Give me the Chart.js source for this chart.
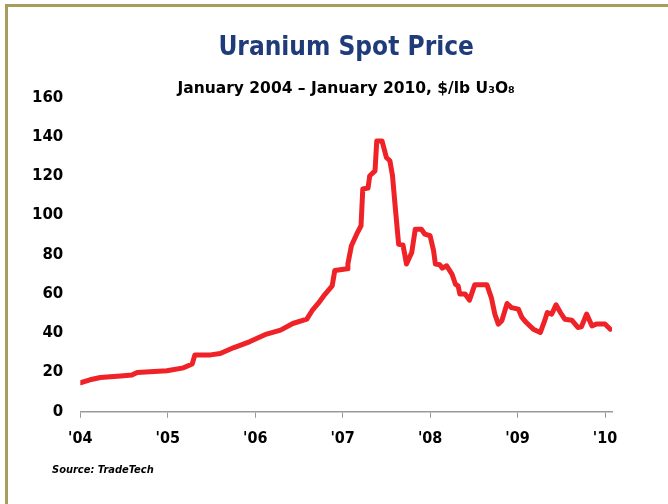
<!DOCTYPE html>
<html>
<head>
<meta charset="utf-8">
<script src="https://cdn.jsdelivr.net/npm/chart.js@4.4.1/dist/chart.umd.min.js"></script>
<style>
  html, body { margin: 0; padding: 0; background: #fff; overflow: hidden; }
  #wrap { position: relative; width: 668px; height: 504px; }
  #frame {
    position: absolute; left: 5px; top: 4px; width: 900px; height: 900px;
    border-left: 3px solid #a99d5e; border-top: 3px solid #a99d5e;
    pointer-events: none;
  }
  canvas { position: absolute; left: 0; top: 0; }
</style>
</head>
<body>
<div id="wrap">
  <canvas id="chart" width="668" height="504"></canvas>
  <div id="frame"></div>
</div>
<script>
// spot price (time as decimal year)
const dates = [
  2004.00, 2004.11, 2004.23, 2004.46, 2004.59, 2004.65, 2004.99, 2005.18, 2005.28, 2005.31,
  2005.49, 2005.60, 2005.75, 2005.94, 2006.13, 2006.29, 2006.43, 2006.59, 2006.65, 2006.72,
  2006.80, 2006.88, 2006.91, 2007.05, 2007.06, 2007.10, 2007.16, 2007.21, 2007.23, 2007.29,
  2007.31, 2007.37, 2007.39, 2007.45, 2007.50, 2007.54, 2007.57, 2007.60, 2007.64, 2007.69,
  2007.73, 2007.79, 2007.83, 2007.90, 2007.94, 2008.00, 2008.04, 2008.06, 2008.11, 2008.14,
  2008.19, 2008.25, 2008.29, 2008.32, 2008.34, 2008.40, 2008.45, 2008.51, 2008.65, 2008.70,
  2008.74, 2008.78, 2008.82, 2008.88, 2008.93, 2009.01, 2009.05, 2009.10, 2009.18, 2009.26,
  2009.31, 2009.34, 2009.39, 2009.44, 2009.49, 2009.54, 2009.62, 2009.69, 2009.73, 2009.79,
  2009.85, 2009.90, 2010.00, 2010.06
];
const prices = [
  14.8, 16.3, 17.5, 18.3, 18.7, 20.0, 20.9, 22.4, 24.4, 29.0,
  29.0, 29.7, 32.6, 35.8, 39.6, 41.6, 45.0, 47.2, 51.5, 55.2,
  60.0, 64.2, 72.0, 72.9, 75.4, 84.6, 90.5, 94.8, 113.5, 114.0,
  120.3, 122.8, 138.0, 138.0, 129.6, 127.9, 120.3, 105.0, 85.4, 85.0,
  75.3, 81.2, 93.0, 93.0, 90.5, 89.7, 82.0, 75.3, 74.9, 73.2,
  74.4, 70.2, 65.0, 64.2, 60.0, 60.0, 56.9, 64.7, 64.7, 58.2,
  49.8, 44.7, 46.4, 55.2, 53.1, 52.3, 48.1, 45.5, 42.1, 40.4,
  46.4, 50.6, 49.8, 54.5, 50.6, 47.2, 46.7, 43.0, 43.3, 49.8,
  43.8, 44.7, 44.7, 42.1
];
const yearTicks = [2004, 2005, 2006, 2007, 2008, 2009, 2010];
const yTicks = [0, 20, 40, 60, 80, 100, 120, 140, 160];

const FONT_NARROW = "'DejaVu Sans Condensed', 'DejaVu Sans', sans-serif";
const FONT = "'DejaVu Sans', sans-serif";

// source note under the axis
const sourceNote = {
  id: "sourceNote",
  afterDraw(chart) {
    const ctx = chart.ctx;
    ctx.save();
    ctx.font = "italic bold 11px " + FONT_NARROW;
    ctx.fillStyle = "#000";
    ctx.textBaseline = "middle";
    ctx.textAlign = "left";
    ctx.fillText("Source: TradeTech", 52, 470);
    ctx.restore();
  }
};

const ctx = document.getElementById("chart").getContext("2d");
new Chart(ctx, {
  type: "line",
  data: {
    datasets: [
      {
        label: "Uranium spot price",
        data: dates.map((d, i) => ({ x: d, y: prices[i] })),
        borderColor: "#ee2227",
        borderWidth: 5,
        borderJoinStyle: "round",
        borderCapStyle: "round",
        pointRadius: 0,
        tension: 0,
        fill: false,
      },
    ],
  },
  options: {
    responsive: false,
    animation: false,
    devicePixelRatio: 1,
    layout: { padding: { left: 15, right: 56, top: 0, bottom: 45 } },
    plugins: {
      legend: { display: false },
      tooltip: { enabled: false },
      title: {
        display: true,
        fullSize: false,
        text: "Uranium Spot Price",
        color: "#1f3b7a",
        font: { family: FONT_NARROW, size: 26, weight: "bold", lineHeight: 1.2 },
        padding: { top: 33, bottom: 15 },
      },
      subtitle: {
        display: true,
        fullSize: false,
        text: "January 2004 – January 2010, $/lb U₃O₈",
        color: "#000",
        font: { family: FONT, size: 15.5, weight: "bold", lineHeight: 1.2 },
        padding: { top: 0, bottom: 0 },
      },
    },
    scales: {
      x: {
        type: "linear",
        min: 2004,
        max: 2010.08,
        afterBuildTicks: (axis) => {
          axis.ticks = yearTicks.map((v) => ({ value: v }));
        },
        ticks: {
          callback: (v) => "'" + String(v).slice(2),
          color: "#000",
          font: { family: FONT_NARROW, size: 16, weight: "bold" },
          padding: 11,
          maxRotation: 0,
        },
        grid: { display: true, drawOnChartArea: false, tickLength: 6, color: "#999" },
        border: { display: true, color: "#999", width: 1.5 },
      },
      y: {
        min: 0,
        max: 160,
        afterBuildTicks: (axis) => {
          axis.ticks = yTicks.map((v) => ({ value: v }));
        },
        ticks: {
          color: "#000",
          font: { family: FONT, size: 15, weight: "bold" },
          padding: 17,
        },
        grid: { display: false, drawTicks: false },
        border: { display: false },
      },
    },
  },
  plugins: [sourceNote],
});
</script>
</body>
</html>
